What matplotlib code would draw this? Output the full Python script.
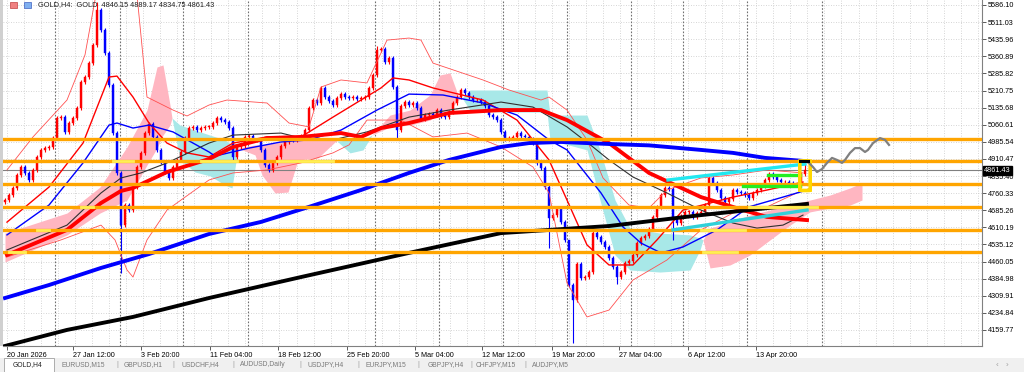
import matplotlib
matplotlib.use("Agg")
import matplotlib.pyplot as plt
from matplotlib.patches import Rectangle, FancyBboxPatch
import matplotlib.transforms as mtransforms
import numpy as np

plt.rcParams['font.family'] = ['Liberation Sans', 'DejaVu Sans']

# ---- price data (H4 closes) ----
closes = [
    4730, 4752, 4783, 4840, 4875, 4849, 4818, 4862, 4919, 4950,
    4958, 4963, 5002, 5090, 5094, 5029, 5068, 5090, 5134, 5248,
    5270, 5331, 5410, 5564, 5476, 5375, 5235, 5024, 4849, 4620,
    4708, 4686, 4787, 4875, 4937, 5024, 5064, 5007, 4950, 4897,
    4853, 4827, 4875, 4906, 4941, 5002, 5046, 5051, 5037, 5046,
    5051, 5051, 5068, 5090, 5081, 5073, 5046, 4919, 4963, 4967,
    5007, 5011, 4994, 4994, 4950, 4884, 4862, 4893, 4919, 4967,
    4985, 5002, 4994, 5002, 5011, 5037, 5134, 5169, 5156, 5222,
    5182, 5165, 5147, 5178, 5195, 5182, 5178, 5182, 5173, 5178,
    5182, 5222, 5279, 5389, 5393, 5336, 5353, 5226, 5037, 5143,
    5160, 5147, 5156, 5134, 5086, 5103, 5108, 5103, 5125, 5099,
    5094, 5116, 5156, 5182, 5213, 5200, 5182, 5169, 5169, 5160,
    5143, 5103, 5094, 5081, 5029, 4998, 5002, 5007, 5024, 5011,
    5007, 4998, 4980, 4893, 4871, 4787, 4651, 4664, 4695, 4634,
    4555, 4357, 4291, 4449, 4388, 4392, 4414, 4585, 4568, 4546,
    4524, 4476, 4436, 4392, 4414, 4454, 4463, 4489, 4541, 4563,
    4572, 4603, 4656, 4700, 4752, 4783, 4779, 4642, 4629, 4660,
    4678, 4678, 4656, 4673, 4678, 4708, 4827, 4805, 4774, 4739,
    4721, 4735, 4774, 4765, 4761, 4752, 4739, 4761, 4774, 4792,
    4818, 4844, 4831, 4818, 4809, 4809, 4805, 4796, 4796, 4846.15,
    4861.43,
]
first_open = 4722
last_open, last_high, last_low = 4846.15, 4889.17, 4834.75
high_spikes = {23: 5600, 93: 5405, 141: 4370}
low_spikes = {29: 4410, 57: 4900, 98: 4994, 136: 4520, 142: 4103, 153: 4362, 167: 4555}

# ---- indicators: (bar, price) points ----
ma_blue_thick_x = [0, 11, 24, 36, 51, 64, 76, 89, 101, 111, 124, 131, 139, 151, 161, 174, 182, 190, 200]
ma_blue_thick_y = [4300, 4357, 4432, 4493, 4581, 4634, 4700, 4774, 4849, 4906, 4963, 4980, 4985, 4976, 4970, 4950, 4937, 4915, 4901]

ma_black_thick_x = [-2.5, 1, 15.5, 32, 51, 74, 101, 124, 151, 174, 200.5]
ma_black_thick_y = [4078, 4094, 4160, 4217, 4300, 4392, 4498, 4585, 4616, 4664, 4713]

ma_red_thick_x = [0.5, 15.5, 24, 29, 32, 40.5, 51, 57, 65.5, 74, 84, 89, 94, 101, 111, 124, 134, 140.5, 151, 161, 174, 184.5, 190.5, 200.5]
ma_red_thick_y = [4489, 4599, 4717, 4770, 4783, 4853, 4910, 4963, 5002, 5007, 5024, 5007, 5046, 5068, 5112, 5125, 5125, 5081, 4980, 4849, 4743, 4686, 4656, 4642]

ma_black_x = [0.5, 15.5, 24, 29, 34, 40.5, 51, 57, 69, 76, 82, 90.5, 101, 111, 124, 132, 140.5, 147, 151, 157, 165.5, 174, 182, 188, 194.5, 199.5]
ma_black_y = [4511, 4620, 4761, 4827, 4849, 4893, 4980, 5015, 5024, 4994, 4994, 5029, 5094, 5125, 5160, 5138, 5051, 4963, 4906, 4831, 4761, 4686, 4629, 4607, 4620, 4664]

ma_blue_x = [0.5, 11, 19.5, 26, 28, 32, 36, 42, 51, 52.5, 61, 69, 76, 84, 93, 101, 109.5, 119.5, 128, 136, 140.5, 149, 154.5, 159, 164, 169.5, 178, 186, 194.5, 200.5]
ma_blue_y = [4577, 4708, 4893, 5059, 5068, 5046, 5059, 5029, 4941, 4923, 4958, 4985, 4994, 5037, 5125, 5195, 5191, 5156, 5103, 4994, 4950, 4761, 4612, 4541, 4498, 4524, 4599, 4700, 4743, 4774]

bb_mid_x = [0.5, 11, 19.5, 26, 28, 32, 36, 40.5, 45.5, 51, 57, 65.5, 74, 82, 89, 94, 97, 101, 107, 119.5, 128, 136, 140.5, 145.5, 151, 157, 163, 169.5, 182, 190.5, 199.5]
bb_mid_y = [4633, 4787, 4980, 5270, 5274, 5182, 5068, 4980, 4937, 4919, 4980, 5007, 5007, 5094, 5169, 5222, 5266, 5257, 5222, 5169, 5081, 4906, 4730, 4533, 4445, 4445, 4555, 4686, 4743, 4774, 4809]

bb_up_x = [0.5, 7, 15.5, 20, 22.5, 24, 31, 33, 35.5, 42, 45.5, 51, 55.5, 65.5, 71, 76, 79, 84, 90.5, 95.5, 101, 104, 107, 119.5, 126, 134, 136, 140.5, 145.5, 149.5, 156, 161, 165.5, 174, 182, 190.5, 199.5]
bb_up_y = [4862, 5007, 5169, 5367, 5608, 5740, 5740, 5630, 5182, 5125, 5099, 5147, 5169, 5156, 5068, 5051, 5226, 5257, 5244, 5432, 5441, 5432, 5331, 5257, 5213, 5169, 5182, 5125, 4994, 4827, 4708, 4695, 4774, 4827, 4840, 4862, 4849]

bb_low_x = [0.5, 14, 24, 27.5, 30.5, 32, 35.5, 40.5, 51, 57, 65.5, 74, 82, 86, 90.5, 99, 107, 115.5, 124, 132, 136, 140.5, 145.5, 151, 157, 165.5, 174, 182, 190.5, 199.5]
bb_low_y = [4480, 4555, 4620, 4555, 4423, 4392, 4555, 4686, 4818, 4849, 4862, 4893, 4937, 4972, 5081, 5081, 5007, 5024, 4963, 4875, 4761, 4366, 4217, 4247, 4379, 4467, 4599, 4673, 4700, 4774]

# ichimoku cloud pieces
cloud_pink1_x = [0, 15.5, 23.75, 30.5, 35.5, 38, 39.5, 41.25, 41.75]
cloud_pink1_top = [4585, 4673, 4787, 4963, 5125, 5314, 5323, 5147, 5090]
cloud_pink1_bot = [4458, 4577, 4673, 4730, 4884, 4958, 5015, 5059, 5090]
cloud_cyan1_x = [41.75, 43.75, 47.5, 51.25, 55, 56.75, 58.25]
cloud_cyan1_top = [5090, 5059, 5037, 5015, 4994, 4972, 4958]
cloud_cyan1_bot = [5090, 4906, 4853, 4836, 4796, 4783, 4958]
cloud_pink2_x = [58.25, 62.5, 64.25, 67.5, 70.75, 73.25, 78.25, 82.5, 83]
cloud_pink2_top = [4958, 4972, 4972, 4980, 4989, 4994, 5002, 4994, 4989]
cloud_pink2_bot = [4958, 4928, 4840, 4761, 4765, 4906, 4915, 4985, 4989]
cloud_cyan2_x = [83, 86.25, 89.5, 91.75]
cloud_cyan2_top = [4989, 4994, 4994, 5015]
cloud_cyan2_bot = [4989, 4937, 4950, 5015]
cloud_pink3_x = [91.75, 96.25, 101.25, 106.25, 108.75, 111.25, 113.25, 114.25]
cloud_pink3_top = [5015, 5103, 5125, 5191, 5279, 5288, 5191, 5178]
cloud_pink3_bot = [5015, 5051, 5059, 5081, 5116, 5125, 5169, 5178]
cloud_cyan3_x = [114.25, 116.25, 123.75, 135.5, 136.25, 145.5, 148.75, 152.5, 156.25, 163.75, 171.25, 173.75, 174.5]
cloud_cyan3_top = [5178, 5213, 5213, 5213, 5103, 5103, 4950, 4730, 4607, 4585, 4577, 4563, 4555]
cloud_cyan3_bot = [5178, 5125, 5116, 5116, 4994, 4950, 4730, 4489, 4423, 4414, 4423, 4511, 4555]
cloud_pink4_x = [174.5, 176.25, 181.25, 186.25, 191.25, 196.25, 201.25, 206.25, 211.25, 214.25]
cloud_pink4_top = [4555, 4607, 4634, 4664, 4686, 4708, 4730, 4752, 4783, 4805]
cloud_pink4_bot = [4555, 4432, 4445, 4489, 4555, 4620, 4678, 4695, 4708, 4730]

# drawn objects
levels = [5000, 4900, 4800, 4700, 4600, 4500]
level_marks = [(4900, 27, 32), (4900, 49, 58), (4900, 68, 82), (4700, 19, 22),
               (4600, 8, 11), (4500, 1, 5), (4700, 186, 203), (4600, 174, 185),
               (4500, 174.5, 183)]
cyan_upper = ([165.75, 200], [4818, 4888])
cyan_lower = ([167, 200.5], [4599, 4686])
green_a = ([184.5, 198.75], [4792, 4792])
green_b = ([190.75, 198.75], [4840, 4840])
forecast_x = [200.75, 202, 203, 204.25, 205.5, 206.75, 208, 209.25, 210, 211.25,
              212.5, 213.75, 215, 215.75, 217, 218.75, 220, 221]
forecast_y = [4897, 4875, 4853, 4866, 4893, 4915, 4906, 4893, 4906, 4937,
              4958, 4958, 4941, 4950, 4980, 5002, 4994, 4972]
current_price = 4861.43

price_ticks = [5586.10, 5511.03, 5435.96, 5360.89, 5285.82, 5210.75, 5135.68,
               5060.61, 4985.54, 4910.47, 4835.40, 4760.33, 4685.26, 4610.19,
               4535.12, 4460.05, 4384.98, 4309.91, 4234.84, 4159.77]
date_labels = ['20 Jan 2026', '27 Jan 12:00', '3 Feb 20:00', '11 Feb 04:00',
               '18 Feb 12:00', '25 Feb 20:00', '5 Mar 04:00', '12 Mar 12:00',
               '19 Mar 20:00', '27 Mar 04:00', '6 Apr 12:00', '13 Apr 20:00']
date_bars = [0.5, 17, 34, 51.25, 68.25, 85.5, 102.5, 119.25, 136.75, 153.5, 170.75, 187.75]
separator_bars = [12.5, 28.75, 44.5, 60.75, 92.5, 108.5, 124.5, 140.5, 156.5, 169.5, 185.5, 204.25]
tabs = ['GOLD,H4', 'EURUSD,M15', 'GBPUSD,H1', 'USDCHF,H4', 'AUDUSD,Daily',
        'USDJPY,H4', 'EURJPY,M15', 'GBPJPY,H4', 'CHFJPY,M15', 'AUDJPY,M5']

# ---- figure ----
W, H = 1024, 372
fig = plt.figure(figsize=(W / 100, H / 100), dpi=100)
fig.patch.set_facecolor('white')
ax = fig.add_axes([3 / W, 26 / H, 979 / W, 346 / H])
ax.set_xlim(-0.5, 244.25)
ax.set_ylim(4089.4, 5608)
ax.set_facecolor('white')

# grid
for gx in np.arange(0.5, 245, 4.2575):
    ax.axvline(gx, color='#c8c8c8', lw=0.6, ls=(0, (1, 2)), zorder=0)
for py in price_ticks:
    ax.axhline(py, color='#c8c8c8', lw=0.6, ls=(0, (1, 2)), zorder=0)
for sx in separator_bars:
    ax.axvline(sx, color='#707070', lw=0.8, ls=(0, (1.5, 1.5)), zorder=0.5)

# cloud
pink, cyan = '#ffb6c1', '#a8e8e8'
for xs, top, bot, col in [
        (cloud_pink1_x, cloud_pink1_top, cloud_pink1_bot, pink),
        (cloud_cyan1_x, cloud_cyan1_top, cloud_cyan1_bot, cyan),
        (cloud_pink2_x, cloud_pink2_top, cloud_pink2_bot, pink),
        (cloud_cyan2_x, cloud_cyan2_top, cloud_cyan2_bot, cyan),
        (cloud_pink3_x, cloud_pink3_top, cloud_pink3_bot, pink),
        (cloud_cyan3_x, cloud_cyan3_top, cloud_cyan3_bot, cyan),
        (cloud_pink4_x, cloud_pink4_top, cloud_pink4_bot, pink)]:
    ax.fill_between(xs, bot, top, color=col, lw=0, zorder=1)

# current price line
ax.axhline(current_price, color='#808080', lw=0.8, zorder=2)

# candles
n = len(closes)
opens = [first_open] + closes[:-1]
opens[-1] = last_open
for i in range(n):
    o, c = opens[i], closes[i]
    hi = high_spikes.get(i, max(o, c) + 8)
    lo = low_spikes.get(i, min(o, c) - 8)
    if i == n - 1:
        hi, lo = last_high, last_low
    col = '#ff0000' if c >= o else '#0000ff'
    ax.plot([i, i], [lo, hi], color=col, lw=0.8, zorder=3, solid_capstyle='butt')
    h = abs(c - o) if abs(c - o) > 2 else 2
    ax.add_patch(Rectangle((i - 0.28, min(o, c)), 0.56, h, facecolor=col,
                           edgecolor=col, lw=0.3, zorder=3))

# indicator lines
ax.plot(bb_up_x, bb_up_y, color='#ff5050', lw=0.6, zorder=3.5)
ax.plot(bb_low_x, bb_low_y, color='#ff5050', lw=0.6, zorder=3.5)
ax.plot(bb_mid_x, bb_mid_y, color='#ff0000', lw=1.0, zorder=3.6)
ax.plot(ma_blue_x, ma_blue_y, color='#0000ff', lw=1.0, zorder=3.6)
ax.plot(ma_black_x, ma_black_y, color='#303030', lw=0.8, zorder=3.6)
ax.plot(ma_red_thick_x, ma_red_thick_y, color='#ff0000', lw=2.8, zorder=4)
ax.plot(ma_blue_thick_x, ma_blue_thick_y, color='#0000ff', lw=2.8, zorder=4)
ax.plot(ma_black_thick_x, ma_black_thick_y, color='#000000', lw=2.8, zorder=4)

# horizontal levels
for lv in levels:
    ax.axhline(lv, color='#ffa500', lw=2.4, zorder=5)
for lv, x0, x1 in level_marks:
    ax.plot([x0, x1], [lv, lv], color='#ffee55', lw=2.0, zorder=5.2)

# trend lines / boxes
ax.plot(*cyan_upper, color='#20e8f0', lw=2.4, zorder=5.5)
ax.plot(*cyan_lower, color='#30d0d8', lw=2.4, zorder=5.5)
ax.plot(*green_a, color='#22ee22', lw=2.4, zorder=5.5)
ax.plot(*green_b, color='#22ee22', lw=2.4, zorder=5.5)
ax.add_patch(FancyBboxPatch((n - 2.3, 4772), 2.6, 130,
                            boxstyle='round,pad=0,rounding_size=1.0',
                            facecolor='none', edgecolor='#ffd700', lw=2.6, zorder=6))
ax.plot([n - 2.2, n - 0.2], [4903, 4903], color='black', lw=2.2, zorder=6.1)
ax.plot(forecast_x, forecast_y, color='#808080', lw=1.6, zorder=6)

# axes styling
for s in ['top', 'left']:
    ax.spines[s].set_visible(False)
ax.spines['right'].set_color('#808080')
ax.spines['bottom'].set_color('#808080')
ax.spines['right'].set_linewidth(0.8)
ax.spines['bottom'].set_linewidth(0.8)
ax.yaxis.tick_right()
ax.set_yticks(price_ticks)
ax.set_yticklabels(['%.2f' % p for p in price_ticks])
ax.tick_params(axis='y', length=3, width=0.6, color='#404040', labelsize=5.2, pad=1)
ax.set_xticks(date_bars)
ax.set_xticklabels(date_labels)
ax.tick_params(axis='x', length=3, width=0.6, color='#404040', labelsize=5.2, pad=1)
for lab in ax.get_xticklabels():
    lab.set_ha('left')

# current price tag
trans = mtransforms.blended_transform_factory(ax.transAxes, ax.transData)
ax.text(1.002, current_price, '%.2f' % current_price, transform=trans,
        fontsize=5.2, color='white', va='center', ha='left',
        bbox=dict(boxstyle='square,pad=0.15', facecolor='black', edgecolor='black'),
        zorder=10, clip_on=False)

# header text and icons
fig.text(38 / W, 1 - 4.5 / H, 'GOLD,H4:  GOLD  4846.15 4889.17 4834.75 4861.43',
         fontsize=5.3, color='#202020', va='center', ha='left')
fig.patches.append(Rectangle((10 / W, 1 - 8 / H), 7 / W, 6 / H, transform=fig.transFigure,
                             facecolor='#f08080', edgecolor='#c04040', lw=0.5))
fig.patches.append(Rectangle((24 / W, 1 - 8 / H), 7 / W, 6 / H, transform=fig.transFigure,
                             facecolor='#80b0f0', edgecolor='#4060c0', lw=0.5))

# left strip
fig.patches.append(Rectangle((0, 26 / H), 3 / W, 346 / H, transform=fig.transFigure,
                             facecolor='#d0d0d0', edgecolor='none'))

# tab bar
fig.patches.append(Rectangle((0, 0), 1, 14 / H, transform=fig.transFigure,
                             facecolor='#f0f0f0', edgecolor='none'))
fig.patches.append(Rectangle((4 / W, 0), 50 / W, 14 / H, transform=fig.transFigure,
                             facecolor='white', edgecolor='#a0a0a0', lw=0.6))
tab_left = [13, 62, 124, 182, 240, 307, 366, 428, 476, 532]
tab_seps = [117, 173, 233, 300, 358, 418, 471, 525]
for name, tx in zip(tabs, tab_left):
    fig.text(tx / W, 7 / H, name, fontsize=4.9,
             color='#202020' if name == 'GOLD,H4' else '#7a7a7a', va='center', ha='left')
for sx in tab_seps:
    fig.text(sx / W, 7 / H, '|', fontsize=4.9, color='#a0a0a0', va='center', ha='center')
fig.text(997 / W, 7 / H, '\u2039', fontsize=6, color='#a0a0a0', va='center', ha='center')
fig.text(1007 / W, 7 / H, '\u203a', fontsize=6, color='#a0a0a0', va='center', ha='center')

fig.savefig('out.png', dpi=100)
